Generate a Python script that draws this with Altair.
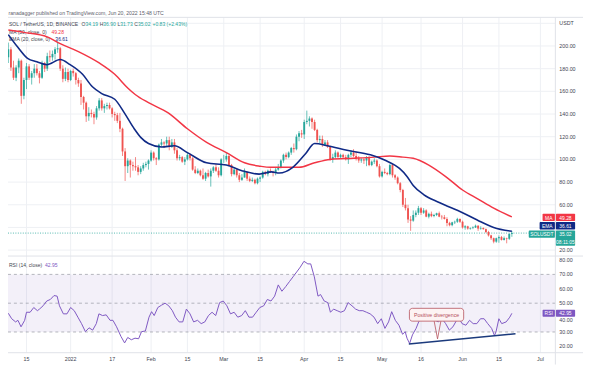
import altair as alt
import pandas as pd

# ---------------- data ----------------
FIRST_DATE = "2021-12-08"     # first candle
REF_DATE = "2021-12-15"       # day 0 of the time axis

open_ = [
    # Dec 8-31
    190,197,181,172,181,187,156,170,182,172,176,180,176,172,185,180,191,190,193,197,198,180,171,177,
    # Jan
    170,178,176,170,167,155,150,138,141,140,137,145,152,145,147,148,145,140,139,134,127,107,94,99,95,94,93,89,92,95,96,
    # Feb
    99,106,101,100,113,115,114,117,111,115,108,101,102,98,100,104,101,91,88,90,86,83,88,85,90,93,90,86,
    # Mar
    100,100,103,95,87,91,86,82,84,89,83,81,82,79,83,84,89,87,90,89,88,91,93,99,104,102,106,110,109,120,123,
    # Apr
    122,133,134,136,133,126,117,118,113,115,111,100,102,106,102,104,102,100,104,106,103,101,99,100,99,102,95,98,99,94,
    # May
    85,89,88,87,95,86,84,79,73,60,57,47,46,51,53,57,53,55,49.5,52,50,51,52.5,49.5,49,47.5,44,42,44.5,45,47.5,
    # Jun 1-20
    45,40,41,39,39.5,40,41.5,39,39.5,38.5,36,33,30.5,27.5,30.5,31.5,29,30.5,30,34.19,
]
high = [
    203,199,187,183,189,188,172,185,184,178,184,184,178,187,186,194,196,196,199,204,199,183,181,180,
    179,180,177,172,170,156,151,146,144,142,147,154,154,149,150,150,146,142,141,141,128,110,101,100,98,102,95,94,97,98,100,
    108,107,102,114,118,116,120,120,118,118,110,104,103,102,106,105,102,94,92,91,92,89,91,92,94,96,93,101,
    104,106,104,96,92,92,88,87,92,89,85,84,83,84,85,90,90,91,92,90,93,96,100,105,106,107,111,114,122,125,126,
    135,143,138,137,135,127,121,121,117,117,112,105,108,107,105,105,104,105,108,109,107,103,101,101,103,103,99,101,100,96,
    90,92,89,96,96,87,85,80,74,66,60,50,55,55,59,58,57,56,53,54,52,53,54,51,51,49,45,45,46,48.5,48,
    46,42,41.5,40,41,42.5,42,41,40,39,37,33.5,31,31,33,32.5,32,31,34.8,36.90,
]
low = [
    185,178,170,169,176,149,153,162,170,166,172,174,167,171,177,178,186,187,188,194,178,168,169,168,
    169,173,166,164,148,144,133,134,137,131,135,143,143,141,144,144,137,134,132,124,103,81,88,84,90,90,86,87,90,93,91,
    98,99,95,99,111,110,112,108,110,105,99,99,97,95,99,99,90,87,87,85,82,81,84,76,88,89,84,85,
    97,98,94,85,86,84,80,81,84,81,80,80,78,78,80,83,86,85,88,85,86,90,92,97,100,101,104,106,108,116,119,
    118,131,129,127,125,115,114,111,112,110,99,97,101,101,101,101,99,96,102,102,99,97,97,96,94,94,94,96,93,84,
    84,87,86,86,84,82,78,71,58,55,44,37,45,49,51,51,52,49,48,49,49,50,49,47,47,41,41,41,43,44,44,
    39,38,38,38,38.5,39.5,37,38,38,35,32,29,26,26.5,26.5,28.5,28.5,26,29,31.73,
]
close = [
    197,181,172,181,187,156,170,182,172,176,180,176,172,185,180,191,190,193,197,198,180,171,177,170,
    178,176,170,167,155,150,138,141,140,137,145,152,145,147,148,145,140,139,134,127,107,94,99,95,94,93,89,92,95,96,99,
    106,101,100,113,115,114,117,111,115,108,101,102,98,100,104,101,91,88,90,86,83,88,85,90,93,90,86,100,
    100,103,95,87,91,86,82,84,89,83,81,82,79,83,84,89,87,90,89,88,91,93,99,104,102,106,110,109,120,123,122,
    133,134,136,133,126,117,118,113,115,111,100,102,106,102,104,102,100,104,106,103,101,99,100,99,102,95,98,99,94,85,
    89,88,87,95,86,84,79,73,60,57,47,46,51,53,57,53,55,49.5,52,50,51,52.5,49.5,49,47.5,44,42,44.5,45,47.5,45,
    40,41,39,39.5,40,41.5,39,39.5,38.5,36,33,30.5,27.5,30.5,31.5,29,30.5,30,34.19,35.02,
]

# MA(50) and EMA(20) lines, read as (day since Dec 15, value)
ma_day = [-7, -1, 8, 13, 20, 28, 34, 39, 42, 47, 54.6, 62, 69.4, 77, 84, 90, 94, 100, 105, 111, 117, 126,
          134, 140, 145, 149, 155, 162, 168, 174, 180, 187]
ma_val = [214, 212, 208, 202, 195, 185, 175, 163, 157, 150, 141, 127, 115, 106, 97, 94, 93, 93, 93, 97, 100, 101,
          102, 103, 102, 101, 95, 84, 73, 65, 57, 49.28]
ema_day = [-7, -3.4, 0.4, 4, 7.8, 13, 16.8, 21.6, 25.4, 29, 34, 37.7, 41.5, 44, 47, 52, 57, 62, 69.4, 77, 83,
           89.6, 94.4, 97.4, 102.6, 107.5, 111, 116, 123.5, 132.5, 138.4, 143.7, 146.6, 149, 153, 159, 168, 175,
           180, 187]
ema_val = [210, 199, 189, 186, 183.5, 188, 183.5, 175, 164, 158, 153, 141, 127, 119.4, 114, 111, 112, 106, 97, 95,
           90, 87, 89, 88, 93, 105, 114, 112, 108, 104, 99, 92, 85, 77, 69, 62, 53, 45, 40, 36.61]

# RSI(14)
rsi_day = [-7, -5.7, -4.2, -3.3, -2.1, -0.7, 0, 1.4, 2.8, 4.2, 5.0, 6.4, 7.8, 9.2, 10.6, 11.8, 12.7, 14.2, 15.6,
           17.0, 18.4, 19.8, 21.2, 22.7, 24.1, 25.5, 26.9, 27.9, 29.3, 30.7, 32.2, 33.3, 34.7, 36.4, 37.8, 39.0,
           40.4, 41.8, 43.2, 44.3, 45.8, 47.2, 48.2, 49.2, 50.6, 52.0, 53.4, 54.8, 56.2, 57.4, 58.8, 60.2, 61.6,
           63.0, 64.4, 65.9, 67.3, 68.7, 70.1, 71.5, 72.9, 74.4, 75.8, 77.2, 78.6, 80.0, 81.4, 82.9, 84.3, 85.7,
           87.1, 88.5, 89.9, 91.4, 92.8, 94.2, 95.6, 97.0, 98.4, 99.9, 101.3, 102.7, 104.1, 105.5, 106.9, 108.4,
           109.5, 110.9, 112.3, 113.3, 114.7, 116.1, 117.1, 118.3, 119.7, 121.1, 122.5, 123.9, 125.4, 126.8,
           128.2, 129.6, 131.0, 132.4, 133.9, 135.3, 136.7, 138.1, 139.5, 140.7, 142.1, 143.5, 144.9, 145.9,
           146.6, 147.6, 148.7, 150.1, 151.1, 152.3, 153.7, 155.1, 156.5, 158.6, 160.1, 161.5, 162.9, 164.3,
           165.7, 166.7, 167.8, 169.3, 170.7, 172.1, 173.5, 174.9, 176.3, 177.7, 179.2, 180.3, 180.9, 182.0,
           183.1, 184.8, 186.2, 187.0]
rsi_val = [43.0, 39.2, 37.0, 38.1, 33.6, 38.1, 43.7, 43.7, 47.0, 44.8, 45.9, 48.2, 51.5, 52.6, 55.3, 54.9, 48.2,
           42.6, 42.6, 47.0, 44.8, 40.3, 35.8, 30.2, 32.9, 31.3, 35.8, 42.6, 41.4, 41.9, 38.1, 38.1, 33.6, 26.9,
           22.4, 26.2, 24.6, 25.7, 25.3, 30.2, 30.7, 40.3, 44.1, 41.4, 47.0, 48.6, 50.0, 48.2, 44.8, 40.3, 37.0,
           37.0, 45.9, 42.6, 37.0, 38.1, 35.8, 37.0, 41.4, 43.7, 41.4, 50.4, 51.5, 48.2, 42.6, 43.7, 40.3, 41.4,
           44.8, 40.3, 40.3, 43.7, 47.0, 48.2, 52.6, 51.5, 54.9, 62.7, 58.3, 61.6, 65.0, 68.3, 71.7, 75.1, 79.1,
           77.3, 77.3, 68.3, 54.9, 56.0, 51.5, 50.4, 43.7, 45.9, 44.8, 43.7, 44.8, 50.4, 48.2, 45.9, 44.8, 44.8,
           43.7, 42.6, 40.3, 35.8, 39.2, 32.5, 37.0, 44.1, 38.1, 34.7, 28.4, 30.2, 25.7, 22.0, 28.0, 32.5, 37.0,
           40.0, 39.0, 40.0, 39.2, 37.0, 39.2, 35.8, 31.3, 33.6, 38.1, 39.2, 35.8, 34.7, 38.1, 35.8, 35.8, 39.2,
           39.2, 35.8, 32.5, 27.5, 30.2, 39.2, 35.8, 37.0, 40.3, 42.95]

# divergence trend line drawn on the RSI pane
trend_day = [147.3, 188.4]
trend_rsi = [21.7, 28.8]

price_grid = [20, 40, 60, 80, 100, 120, 140, 160, 180, 200, 220]
price_labels = [20, 60, 80, 100, 120, 140, 160, 180, 200]
rsi_labels = [80, 70, 60, 50, 30, 20]
rsi_label_under_tag = 40
rsi_levels = [70, 50, 30]
date_ticks = ["2021-12-15", "2022-01-01", "2022-01-17", "2022-02-01", "2022-02-15", "2022-03-01",
              "2022-03-15", "2022-04-01", "2022-04-15", "2022-05-01", "2022-05-16", "2022-06-01",
              "2022-06-15", "2022-07-01"]
date_labels = ["15", "2022", "17", "Feb", "15", "Mar", "15", "Apr", "15", "May", "16", "Jun", "15", "Jul"]

# ---------------- frames ----------------
n = len(close)
assert len(open_) == n == len(high) == len(low)
ref = pd.Timestamp(REF_DATE)
dates = pd.date_range(FIRST_DATE, periods=n, freq="D")
cdf = pd.DataFrame({"day": (dates - ref).days, "open": open_, "high": high, "low": low, "close": close})
cdf["dir"] = ["up" if c >= o else "down" for o, c in zip(cdf["open"], cdf["close"])]
ma_df = pd.DataFrame({"day": ma_day, "v": ma_val})
ema_df = pd.DataFrame({"day": ema_day, "v": ema_val})
rsi_df = pd.DataFrame({"day": rsi_day, "r": rsi_val})
trend_df = pd.DataFrame({"day": trend_day, "r": trend_rsi})
date_df = pd.DataFrame({"day": (pd.to_datetime(date_ticks) - ref).days, "t": date_labels})
pgrid_df = pd.DataFrame({"v": price_grid})
plab_df = pd.DataFrame({"v": price_labels, "t": [f"{v:.2f}" for v in price_labels]})
rlab_df = pd.DataFrame({"r": rsi_labels, "t": [f"{v:.2f}" for v in rsi_labels]})
rlab2_df = pd.DataFrame({"r": [rsi_label_under_tag], "t": [f"{rsi_label_under_tag:.2f}"]})
rlev_df = pd.DataFrame({"r": rsi_levels})
one = pd.DataFrame({"k": [0]})

# ---------------- layout & style ----------------
M = 8                      # page margin: chart px = page px - 8
def p(v):
    return v - M

FONT = "Liberation Sans"
TEAL, RED = "#26a69a", "#ef5350"
MA_C, EMA_C, RSI_C = "#f23645", "#102a86", "#7e57c2"
TXT, GRID, FRAME = "#434651", "#eef0f4", "#dfe2e8"
FS = 5.4
LF = 5.1   # legend font

PLOT_R = p(563)
X0, XPD = p(22), 2.68
xs = alt.Scale(domain=[-X0 / XPD, (PLOT_R - X0) / XPD], range=[0, PLOT_R], nice=False, zero=False)
# price pane: page y = 251 - (v-20)*1.15, from page 15 to 257
PY = lambda yp: 20 + (p(251) - p(yp)) / 1.15
ps = alt.Scale(domain=[PY(257), PY(15)], range=[p(257), p(15)], nice=False, zero=False)
# rsi pane: page y = 334 - (r-30)*1.46, from page 257 to 355
RY = lambda yp: 30 + (p(334) - p(yp)) / 1.46
rs = alt.Scale(domain=[RY(355), RY(257)], range=[p(355), p(257)], nice=False, zero=False)

X = lambda: alt.X("day:Q", scale=xs, axis=None)


def text(s, x, y, color=TXT, size=FS, align="left", weight="normal"):
    return alt.Chart(one).mark_text(text=s, align=align, baseline="middle", font=FONT, fontSize=size,
                                    color=color, fontWeight=weight).encode(x=alt.value(p(x)), y=alt.value(p(y)))


def box(x1, x2, y1, y2, fill, stroke=None, radius=0, sw=0.8):
    kw = dict(fill=fill, cornerRadius=radius)
    if stroke:
        kw.update(stroke=stroke, strokeWidth=sw)
    return alt.Chart(one).mark_rect(**kw).encode(x=alt.value(p(x1)), x2=alt.value(p(x2)),
                                                 y=alt.value(p(y1)), y2=alt.value(p(y2)))


def seg(x1, y1, x2, y2, color=FRAME, width=1.0):
    return alt.Chart(one).mark_rule(color=color, strokeWidth=width).encode(
        x=alt.value(p(x1)), y=alt.value(p(y1)), x2=alt.value(p(x2)), y2=alt.value(p(y2)))


layers = []
# grid
layers.append(alt.Chart(date_df).mark_rule(color=GRID, strokeWidth=1).encode(
    x=X(), y=alt.value(p(15)), y2=alt.value(p(355))))
layers.append(alt.Chart(pgrid_df).mark_rule(color=GRID, strokeWidth=1).encode(
    y=alt.Y("v:Q", scale=ps, axis=None), x=alt.value(0), x2=alt.value(PLOT_R)))
# RSI band + levels
layers.append(alt.Chart(one).mark_rect(fill=RSI_C, opacity=0.09).encode(
    x=alt.value(0), x2=alt.value(PLOT_R),
    y=alt.YDatum(70, scale=rs, axis=None, type="quantitative"), y2=alt.Y2Datum(30)))
layers.append(alt.Chart(rlev_df).mark_rule(color="#9598a1", strokeWidth=0.7, strokeDash=[3, 3]).encode(
    y=alt.Y("r:Q", scale=rs, axis=None), x=alt.value(0), x2=alt.value(PLOT_R)))
# frame
layers += [seg(8, 15, 591, 15), seg(8, 257, 591, 257), seg(8, 355, 591, 355), seg(563, 15, 563, 367)]

# header & legends
layers.append(text("ranadagger published on TradingView.com, Jun 20, 2022 15:48 UTC", 8.5, 10.5,
                   color="#5d606b", size=5.2))
layers.append(text("SOL / TetherUS, 1D, BINANCE", 9, 22, size=LF))
for lab, x_lab, x_val, val in [("O", 82.6, 86.6, "34.19"), ("H", 100.9, 104.6, "36.90"),
                               ("L", 118.9, 121.7, "31.73"), ("C", 136.0, 139.7, "35.02")]:
    layers.append(text(lab, x_lab, 22, size=LF))
    layers.append(text(val, x_val, 22, color=TEAL, size=LF))
layers.append(text("+0.83 (+2.43%)", 154.5, 22, color=TEAL, size=LF))
layers.append(text("MA (50, close, 0)", 9, 29.5, size=LF))
layers.append(text("49.28", 52, 29.5, color=MA_C, size=LF))
layers.append(text("EMA (20, close, 0)", 9, 36.5, size=LF))
layers.append(text("36.61", 56, 36.5, color=EMA_C, size=LF))
layers.append(text("RSI (14, close)", 9, 266, size=LF))
layers.append(text("42.95", 45.5, 266, color=RSI_C, size=LF))

# last price line
layers.append(alt.Chart(one).mark_rule(color=TEAL, strokeWidth=0.8, strokeDash=[1, 1.5]).encode(
    y=alt.YDatum(close[-1], scale=ps, axis=None, type="quantitative"), x=alt.value(0), x2=alt.value(p(536))))

# candles
col = alt.Color("dir:N", scale=alt.Scale(domain=["up", "down"], range=[TEAL, RED]), legend=None)
layers.append(alt.Chart(cdf).mark_rule(strokeWidth=0.7).encode(
    x=X(), y=alt.Y("low:Q", scale=ps, axis=None), y2="high:Q", color=col))
layers.append(alt.Chart(cdf).mark_bar(size=1.9).encode(
    x=X(), y=alt.Y("open:Q", scale=ps, axis=None), y2="close:Q", color=col))
# moving averages
layers.append(alt.Chart(ma_df).mark_line(color=MA_C, strokeWidth=1.5, interpolate="monotone").encode(
    x=X(), y=alt.Y("v:Q", scale=ps, axis=None)))
layers.append(alt.Chart(ema_df).mark_line(color=EMA_C, strokeWidth=1.6, interpolate="monotone").encode(
    x=X(), y=alt.Y("v:Q", scale=ps, axis=None)))

# RSI line & divergence
layers.append(alt.Chart(rsi_df).mark_line(color=RSI_C, strokeWidth=1.0).encode(
    x=X(), y=alt.Y("r:Q", scale=rs, axis=None)))
layers.append(alt.Chart(trend_df).mark_line(color="#1b3a7c", strokeWidth=1.4).encode(
    x=X(), y=alt.Y("r:Q", scale=rs, axis=None)))
CAL = "#b5505c"
layers.append(seg(440, 322.5, 443.5, 341, color=CAL, width=0.8))
layers.append(seg(447, 322.5, 443.5, 341, color=CAL, width=0.8))
layers.append(box(415, 470, 310, 323, "#fdf3f3", stroke=CAL, radius=3, sw=0.8))
layers.append(text("Positive divergence", 442.5, 316.5, color=CAL, size=5.3, align="center"))

# right axis labels
layers.append(alt.Chart(plab_df).mark_text(align="left", baseline="middle", font=FONT, fontSize=FS,
                                           color=TXT).encode(
    x=alt.value(p(567)), y=alt.Y("v:Q", scale=ps, axis=None), text="t:N"))
layers.append(text("USDT", 567, 21))
layers.append(alt.Chart(rlab_df).mark_text(align="left", baseline="middle", font=FONT, fontSize=FS,
                                           color=TXT).encode(
    x=alt.value(p(567)), y=alt.Y("r:Q", scale=rs, axis=None), text="t:N"))
# the 40.00 label sits just under the RSI value tag
layers.append(alt.Chart(rlab2_df).mark_text(align="left", baseline="middle", font=FONT, fontSize=FS,
                                            color=TXT, yOffset=2).encode(
    x=alt.value(p(567)), y=alt.Y("r:Q", scale=rs, axis=None), text="t:N"))

# value tags
for lab, val, x_lab, y1, y2, fill in [("MA", "49.28", 550, 214, 221.5, MA_C),
                                      ("EMA", "36.61", 547, 222.5, 230, EMA_C),
                                      ("RSI", "42.95", 550, 311.5, 318.5, RSI_C)]:
    layers.append(box(x_lab, 562.5, y1, y2, fill, radius=1))
    layers.append(box(563.5, 583, y1, y2, fill, radius=1))
    layers.append(text(lab, (x_lab + 562.5) / 2, (y1 + y2) / 2 + 0.2, color="white", size=5, align="center"))
    layers.append(text(val, 573.2, (y1 + y2) / 2 + 0.2, color="white", size=5, align="center"))
layers.append(box(536, 562.5, 231, 238.5, TEAL, radius=1))
layers.append(box(563.5, 583, 231, 246.5, TEAL, radius=1))
layers.append(text("SOLUSDT", 549.2, 234.9, color="white", size=5, align="center"))
layers.append(text("35.02", 573.2, 234.9, color="white", size=5, align="center"))
layers.append(text("08:11:05", 573.2, 242.3, color="white", size=5, align="center"))

# date labels
layers.append(alt.Chart(date_df).mark_text(align="center", baseline="middle", font=FONT, fontSize=FS,
                                           color=TXT).encode(x=X(), y=alt.value(p(361)), text="t:N"))

chart = alt.layer(*layers).resolve_scale(y="independent").properties(
    width=583, height=359, padding=0, background="white",
    autosize=alt.AutoSizeParams(type="none"),
).configure_view(stroke=None)

chart.save("out.html", embed_options={"renderer": "svg", "actions": False})
